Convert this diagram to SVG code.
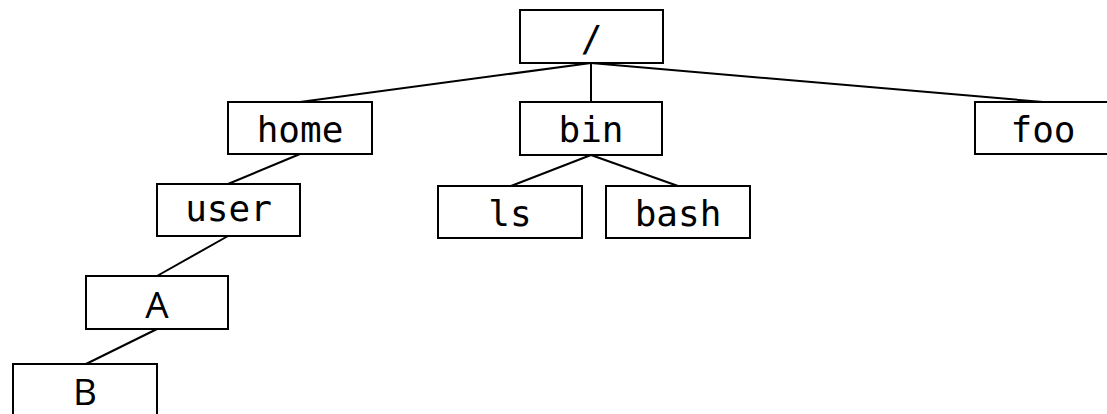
<svg xmlns="http://www.w3.org/2000/svg" width="1107" height="414" viewBox="0 0 1107 414">
<style>
rect{fill:#fff;stroke:#000;stroke-width:2}
line{stroke:#000;stroke-width:2}
text{font-family:"DejaVu Sans Mono",monospace;font-size:36px;text-anchor:middle;fill:#000}
text.s{font-family:"Open Sans","Liberation Sans",sans-serif;font-size:37px}
</style>
<rect x="0" y="0" width="1107" height="414" style="stroke:none"/>
<g id="connectors">
<line x1="591" y1="63" x2="300" y2="102"/>
<line x1="591" y1="63" x2="591" y2="102"/>
<line x1="591" y1="63" x2="1043" y2="102"/>
<line x1="591" y1="155" x2="511" y2="186"/>
<line x1="591" y1="155" x2="678" y2="186"/>
<line x1="300" y1="154" x2="228" y2="184"/>
<line x1="228" y1="236" x2="157" y2="276"/>
<line x1="157" y1="329" x2="86" y2="364"/>
</g>
<g id="root"><rect x="520" y="10" width="143" height="53"/><text x="591.5" y="51">/</text></g>
<g id="home"><rect x="228" y="102" width="144" height="52"/><text x="300" y="142">home</text></g>
<g id="bin"><rect x="520" y="102" width="142" height="53"/><text x="591" y="142">bin</text></g>
<g id="foo"><rect x="975" y="102" width="140" height="52"/><text x="1043" y="142">foo</text></g>
<g id="user"><rect x="157" y="184" width="143" height="52"/><text x="228.5" y="221">user</text></g>
<g id="ls"><rect x="438" y="186" width="144" height="52"/><text x="510" y="226">ls</text></g>
<g id="bash"><rect x="606" y="186" width="144" height="52"/><text x="678" y="226">bash</text></g>
<g id="A"><rect x="86" y="276" width="142" height="53"/><text class="s" x="157" y="318">A</text></g>
<g id="B"><rect x="13" y="364" width="144" height="53"/><text class="s" x="85" y="405">B</text></g>
</svg>
